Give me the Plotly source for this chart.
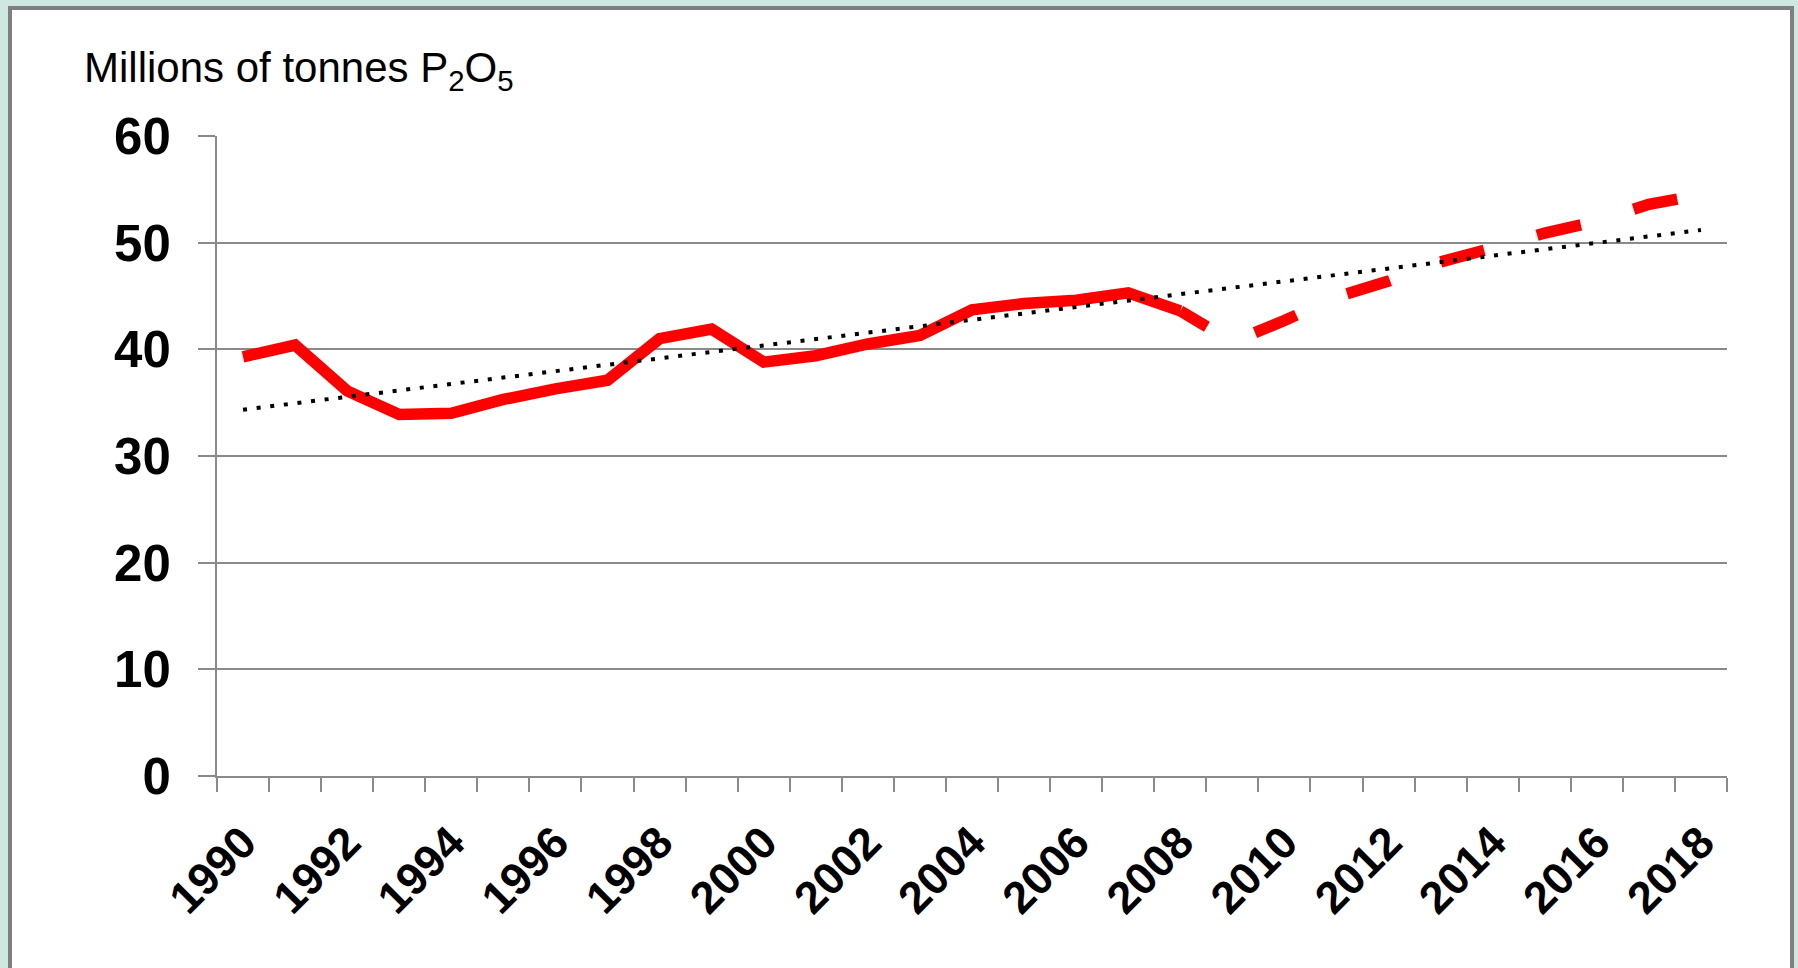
import numpy as np
import plotly.graph_objects as go

# ---- data ----
years = list(range(1990, 2019))
actual_years = list(range(1990, 2009))
actual_values = [39.3, 40.4, 36.1, 33.9, 34.0, 35.3, 36.3, 37.1, 41.0, 41.9,
                 38.8, 39.4, 40.5, 41.3, 43.7, 44.3, 44.6, 45.3, 43.6]
forecast_years = list(range(2008, 2019))
forecast_values = [43.6, 40.7, 42.7, 44.9, 46.4, 48.2, 49.5, 50.9, 52.0, 53.6, 54.5]
label_years = list(range(1990, 2019, 2))
y_ticks = [0, 10, 20, 30, 40, 50, 60]
y_title = "Millions of tonnes P<sub>2</sub>O<sub>5</sub>"

# linear trend over the whole series (as the spreadsheet trendline does)
all_values = actual_values + forecast_values[1:]
slope, intercept = np.polyfit(years, all_values, 1)
trend_values = [slope * y + intercept for y in years]

W, H = 1798, 968
L, R, T, B = 217, 71, 136, 192
pw, ph = W - L - R, H - T - B


def px_x(px):
    return (px - L) / pw


def px_y(py):
    return (H - B - py) / ph


GRID = "#8a8a8a"
RED = "#ff0000"
FONT = "Liberation Sans"

fig = go.Figure()
fig.add_trace(go.Scatter(x=actual_years, y=actual_values, mode="lines",
                         line=dict(color=RED, width=11.5), hoverinfo="skip"))
fig.add_trace(go.Scatter(x=forecast_years, y=forecast_values, mode="lines",
                         line=dict(color=RED, width=11.5,
                                   dash="31px,54px,45px,55px,45px,54px,45px,55px,45px,55px,45px,55px"),
                         hoverinfo="skip"))
fig.add_trace(go.Scatter(x=years, y=trend_values, mode="lines",
                         line=dict(color="black", width=4, dash="4px,9.7px"),
                         hoverinfo="skip"))

fig.update_layout(
    width=W, height=H,
    margin=dict(l=L, r=R, t=T, b=B, pad=0, autoexpand=False),
    paper_bgcolor="#cfe7e1",
    plot_bgcolor="rgba(0,0,0,0)",
    showlegend=False,
    xaxis=dict(
        range=[1989.5, 2018.5],
        tickmode="array", tickvals=label_years, ticktext=[str(y) for y in label_years],
        ticks="", tickangle=-45,
        tickfont=dict(family=FONT, size=45, color="black", weight="bold"),
        ticklabelstandoff=20,
        showgrid=False, zeroline=False,
        showline=True, linecolor=GRID, linewidth=2,
        minor=dict(tickmode="linear", tick0=1989.5, dtick=1, ticks="outside",
                   ticklen=14, tickwidth=2, tickcolor=GRID, showgrid=False),
    ),
    yaxis=dict(
        range=[0, 60], tickmode="array", tickvals=y_ticks,
        ticks="outside", ticklen=17, tickwidth=2, tickcolor=GRID,
        tickfont=dict(family=FONT, size=51, color="black", weight="bold"),
        ticklabelstandoff=17,
        showgrid=True, gridcolor=GRID, gridwidth=2,
        zeroline=False, showline=True, linecolor=GRID, linewidth=2,
    ),
    shapes=[dict(type="rect", xref="paper", yref="paper", layer="below",
                 x0=px_x(10), x1=px_x(1792), y0=px_y(1010), y1=px_y(8),
                 fillcolor="white", line=dict(color="#7f7f7f", width=4))],
    annotations=[dict(text=y_title, xref="paper", yref="paper",
                      x=px_x(82), y=px_y(99), xanchor="left", yanchor="bottom",
                      showarrow=False,
                      font=dict(family=FONT, size=42, color="black"))],
)

fig.write_html("out.html",
               config={"displayModeBar": False},
               post_script="document.body.style.margin='0';document.body.style.overflow='hidden';")
